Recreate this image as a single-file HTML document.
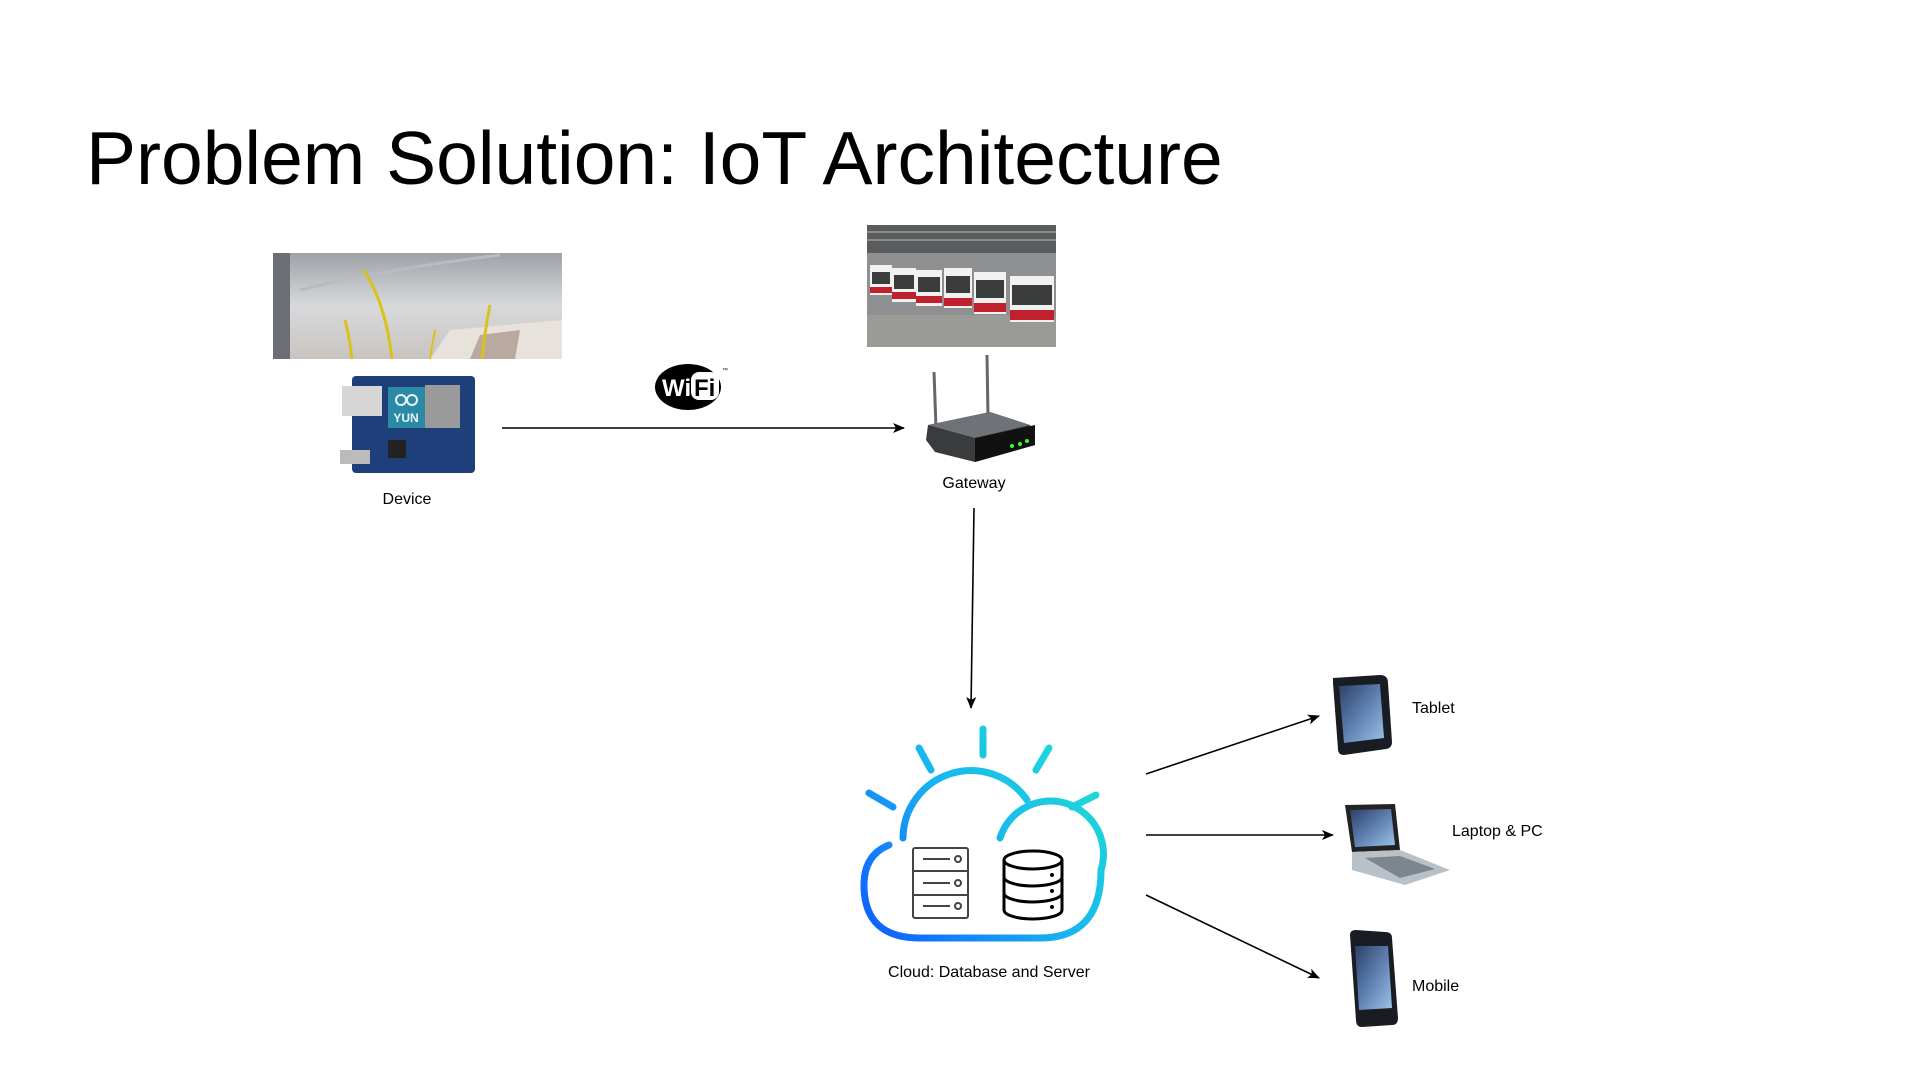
<!DOCTYPE html>
<html><head><meta charset="utf-8"><style>
html,body{margin:0;padding:0;background:#fff;}
svg{display:block;}
text{font-family:"Liberation Sans",Arial,sans-serif;fill:#000;}
</style></head><body>
<svg width="1920" height="1088" viewBox="0 0 1920 1088" xmlns="http://www.w3.org/2000/svg">
<defs>
<marker id="ah" markerWidth="12" markerHeight="10" refX="11" refY="5" orient="auto" markerUnits="userSpaceOnUse">
<path d="M0,0 L12,5 L0,10 L3,5 Z" fill="#000"/></marker>
<linearGradient id="cg" gradientUnits="userSpaceOnUse" x1="870" y1="940" x2="1100" y2="740">
<stop offset="0" stop-color="#0f5cff"/><stop offset="0.5" stop-color="#18b4f0"/><stop offset="1" stop-color="#20e3d0"/></linearGradient>
<linearGradient id="ceil" x1="0" y1="0" x2="0" y2="1">
<stop offset="0" stop-color="#9ea2a8"/><stop offset="0.5" stop-color="#d8d9db"/><stop offset="1" stop-color="#c9c4c0"/></linearGradient>
<linearGradient id="scr" x1="0" y1="0" x2="1" y2="1">
<stop offset="0" stop-color="#2d3f66"/><stop offset="0.5" stop-color="#5e7fb0"/><stop offset="1" stop-color="#9cc4e6"/></linearGradient>
</defs>

<text x="86" y="184" font-size="75">Problem Solution: IoT Architecture</text>

<!-- bus interior photo -->
<rect x="273" y="253" width="289" height="106" fill="url(#ceil)"/>
<path d="M273,253 L290,253 L290,359 L273,359Z" fill="#6b6f75"/>
<path d="M430,359 L450,330 L562,320 L562,359Z" fill="#e8e2dc"/>
<path d="M470,359 L480,335 L520,330 L515,359Z" fill="#b9a9a0"/>
<path d="M300,290 Q380,270 500,255" stroke="#b8bcc0" stroke-width="3" fill="none"/>
<path d="M363,270 Q385,300 392,359" stroke="#d9c21a" stroke-width="3" fill="none"/>
<path d="M345,320 Q350,340 352,359" stroke="#d9c21a" stroke-width="3" fill="none"/>
<path d="M490,305 Q485,330 482,359" stroke="#d9c21a" stroke-width="3" fill="none"/>
<path d="M435,330 Q432,345 430,359" stroke="#d9c21a" stroke-width="2" fill="none"/>

<!-- bus fleet photo -->
<rect x="867" y="225" width="189" height="122" fill="#8e8f90"/>
<rect x="867" y="225" width="189" height="28" fill="#5a5c5e"/>
<path d="M867,232 L1056,232 M867,240 L1056,240" stroke="#bbb" stroke-width="1"/>
<rect x="867" y="315" width="189" height="32" fill="#9a9a96"/>
<g fill="#f1f1f1">
<rect x="870" y="265" width="22" height="30"/><rect x="892" y="268" width="24" height="34"/><rect x="916" y="270" width="26" height="36"/>
<rect x="944" y="268" width="28" height="40"/><rect x="974" y="272" width="32" height="42"/><rect x="1010" y="276" width="44" height="46"/></g>
<g fill="#c0212d">
<rect x="870" y="287" width="22" height="6"/><rect x="892" y="292" width="24" height="7"/><rect x="916" y="296" width="26" height="7"/>
<rect x="944" y="298" width="28" height="8"/><rect x="974" y="303" width="32" height="9"/><rect x="1010" y="310" width="44" height="10"/></g>
<g fill="#3b3d3c"><rect x="872" y="272" width="18" height="12"/><rect x="894" y="275" width="20" height="14"/><rect x="918" y="277" width="22" height="15"/>
<rect x="946" y="276" width="24" height="17"/><rect x="976" y="280" width="28" height="18"/><rect x="1012" y="285" width="40" height="20"/></g>

<!-- arduino -->
<rect x="352" y="376" width="123" height="97" rx="4" fill="#1e3f7a"/>
<rect x="342" y="386" width="40" height="30" fill="#d6d6d6"/>
<rect x="388" y="387" width="37" height="41" fill="#2a8aa5"/>
<rect x="425" y="385" width="35" height="43" fill="#9a9a9a"/>
<text x="406" y="422" font-size="12" font-weight="bold" text-anchor="middle" style="fill:#e8f4f8">YUN</text>
<circle cx="401" cy="400" r="5" fill="none" stroke="#e8f4f8" stroke-width="2"/><circle cx="412" cy="400" r="5" fill="none" stroke="#e8f4f8" stroke-width="2"/>
<rect x="340" y="450" width="30" height="14" fill="#bbb"/>
<rect x="388" y="440" width="18" height="18" fill="#222"/>

<text x="407" y="504" font-size="16" text-anchor="middle">Device</text>

<!-- arrow device -> gateway -->
<line x1="502" y1="428" x2="904" y2="428" stroke="#000" stroke-width="1.6" marker-end="url(#ah)"/>

<!-- wifi -->
<ellipse cx="688" cy="387" rx="33" ry="23" fill="#000"/>
<text x="662" y="396" font-size="24" font-weight="bold" style="fill:#fff">Wi</text>
<rect x="691" y="372" width="28" height="28" rx="8" fill="#fff"/>
<text x="694" y="396" font-size="24" font-weight="bold">Fi</text>
<text x="722" y="372" font-size="6">™</text>

<!-- router -->
<line x1="934" y1="372" x2="936" y2="428" stroke="#666" stroke-width="3"/>
<line x1="987" y1="355" x2="988" y2="418" stroke="#666" stroke-width="3"/>
<path d="M928,425 L990,412 L1030,425 L1035,445 L975,462 L935,452 L926,440Z" fill="#3a3b3d"/>
<path d="M928,425 L990,412 L1030,425 L975,438Z" fill="#6f7277"/>
<path d="M975,438 L1035,425 L1035,445 L975,462Z" fill="#111"/>
<circle cx="1012" cy="446" r="2" fill="#3f3"/><circle cx="1020" cy="444" r="2" fill="#3f3"/><circle cx="1027" cy="441" r="2" fill="#3f3"/>
<text x="974" y="488" font-size="16" text-anchor="middle">Gateway</text>

<!-- arrow down -->
<line x1="974" y1="508" x2="971" y2="708" stroke="#000" stroke-width="1.6" marker-end="url(#ah)"/>

<!-- cloud -->
<g stroke="url(#cg)" stroke-linecap="round" fill="none">
<line x1="983" y1="729" x2="983" y2="755" stroke-width="7"/>
<line x1="919" y1="748" x2="931" y2="770" stroke-width="7"/>
<line x1="1049" y1="748" x2="1036" y2="770" stroke-width="7"/>
<line x1="869" y1="793" x2="893" y2="807" stroke-width="7"/>
<line x1="1096" y1="795" x2="1072" y2="807" stroke-width="7"/>
<path d="M903,838 A68 68 0 0 1 1027,800" stroke-width="7"/>
<path d="M1000,838 A52 52 0 0 1 1101,870 Q1101,938 1040,938 L920,938 Q864,938 864,885 Q864,855 889,845" stroke-width="7"/>
</g>
<!-- server -->
<g fill="none" stroke="#444" stroke-width="2">
<rect x="913" y="848" width="55" height="70" rx="2"/>
<line x1="913" y1="871" x2="968" y2="871"/><line x1="913" y1="895" x2="968" y2="895"/>
<line x1="923" y1="859" x2="950" y2="859"/><line x1="923" y1="883" x2="950" y2="883"/><line x1="923" y1="906" x2="950" y2="906"/>
<circle cx="958" cy="859" r="3"/><circle cx="958" cy="883" r="3"/><circle cx="958" cy="906" r="3"/>
</g>
<!-- db -->
<g fill="none" stroke="#000" stroke-width="3">
<ellipse cx="1033" cy="860" rx="29" ry="9"/>
<path d="M1004,860 L1004,910 A29 9 0 0 0 1062,910 L1062,860"/>
<path d="M1004,877 A29 9 0 0 0 1062,877"/><path d="M1004,893 A29 9 0 0 0 1062,893"/>
</g>
<circle cx="1052" cy="875" r="2" fill="#000"/><circle cx="1052" cy="891" r="2" fill="#000"/><circle cx="1052" cy="907" r="2" fill="#000"/>
<text x="989" y="977" font-size="16" text-anchor="middle">Cloud: Database and Server</text>

<!-- arrows to devices -->
<line x1="1146" y1="774" x2="1319" y2="716" stroke="#000" stroke-width="1.6" marker-end="url(#ah)"/>
<line x1="1146" y1="835" x2="1333" y2="835" stroke="#000" stroke-width="1.6" marker-end="url(#ah)"/>
<line x1="1146" y1="895" x2="1319" y2="978" stroke="#000" stroke-width="1.6" marker-end="url(#ah)"/>

<!-- tablet -->
<path d="M1333,678 L1380,675 Q1388,675 1388,683 L1392,742 Q1392,748 1386,749 L1344,755 Q1338,755 1338,749 L1333,683Z" fill="#1a1c24"/>
<path d="M1339,686 L1380,684 L1384,738 L1344,743Z" fill="url(#scr)"/>
<text x="1412" y="713" font-size="16">Tablet</text>

<!-- laptop -->
<path d="M1345,805 L1395,804 L1400,850 L1352,852Z" fill="#222"/>
<path d="M1350,810 L1391,809 L1395,845 L1355,847Z" fill="url(#scr)"/>
<path d="M1352,852 L1400,850 L1450,870 L1405,885 L1352,870Z" fill="#b8c0c8"/>
<path d="M1365,858 L1400,856 L1435,869 L1400,878Z" fill="#7d868f"/>
<text x="1452" y="836" font-size="16">Laptop &amp; PC</text>

<!-- mobile -->
<path d="M1350,935 Q1350,930 1356,930 L1385,932 Q1392,932 1392,938 L1398,1018 Q1398,1025 1392,1025 L1362,1027 Q1356,1027 1356,1020Z" fill="#1a1c24"/>
<path d="M1355,946 L1388,946 L1392,1008 L1359,1010Z" fill="url(#scr)"/>
<text x="1412" y="991" font-size="16">Mobile</text>
</svg>
</body></html>
